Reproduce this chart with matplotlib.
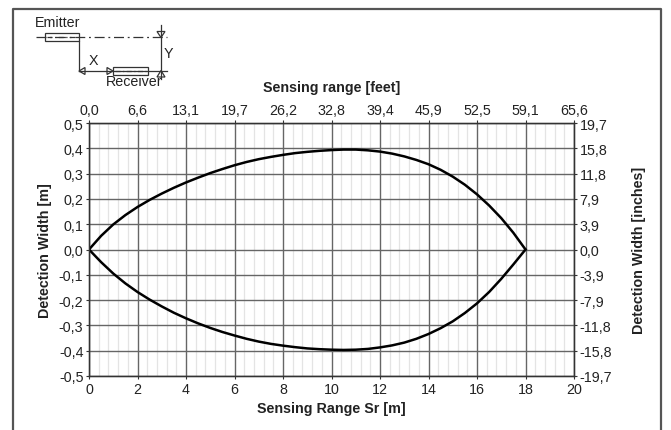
import matplotlib

matplotlib.use("Agg")
import matplotlib.pyplot as plt  # noqa: E402
from matplotlib.patches import Rectangle, Polygon  # noqa: E402

plt.rcParams["font.family"] = ["Liberation Sans", "DejaVu Sans"]

# detection area (metres)
range_m = [0, 0.5, 1, 1.5, 2, 2.5, 3, 3.5, 4, 4.5, 5, 5.5, 6, 6.5, 7, 7.5, 8, 8.5, 9, 9.5,
           10, 10.5, 11, 11.5, 12, 12.5, 13, 13.5, 14, 14.5, 15, 15.5, 16, 16.5, 17, 17.5, 18]
upper_m = [0, 0.054, 0.099, 0.136, 0.168, 0.196, 0.221, 0.244, 0.265, 0.284, 0.302, 0.318,
           0.333, 0.346, 0.357, 0.366, 0.374, 0.381, 0.386, 0.390, 0.393, 0.395, 0.395, 0.392,
           0.387, 0.379, 0.368, 0.354, 0.337, 0.315, 0.288, 0.256, 0.218, 0.174, 0.124, 0.066, 0]
lower_m = [0, -0.050, -0.095, -0.134, -0.168, -0.198, -0.225, -0.250, -0.272, -0.292, -0.310,
           -0.326, -0.340, -0.353, -0.364, -0.373, -0.380, -0.386, -0.391, -0.394, -0.396, -0.397,
           -0.396, -0.393, -0.387, -0.379, -0.368, -0.353, -0.334, -0.311, -0.284, -0.251, -0.213,
           -0.168, -0.116, -0.059, 0]

x_ticks = [0, 2, 4, 6, 8, 10, 12, 14, 16, 18, 20]
feet_labels = ["0,0", "6,6", "13,1", "19,7", "26,2", "32,8", "39,4", "45,9", "52,5", "59,1", "65,6"]
y_ticks = [0.5, 0.4, 0.3, 0.2, 0.1, 0.0, -0.1, -0.2, -0.3, -0.4, -0.5]
y_labels = ["0,5", "0,4", "0,3", "0,2", "0,1", "0,0", "-0,1", "-0,2", "-0,3", "-0,4", "-0,5"]
inch_labels = ["19,7", "15,8", "11,8", "7,9", "3,9", "0,0", "-3,9", "-7,9", "-11,8", "-15,8", "-19,7"]

W, H = 671, 431
fig = plt.figure(figsize=(W / 100, H / 100), dpi=100)
ax = fig.add_axes([89 / W, 1 - 377 / H, (574 - 89) / W, (377 - 124) / H])

tick_fs = 10.3
lab_fs = 10.3
major_c = "#666666"
txt_c = "#222222"

ax.set_xlim(0, 20)
ax.set_ylim(-0.5, 0.5)
ax.set_xticks(x_ticks)
ax.set_xticks([i * 0.4 for i in range(51)], minor=True)
ax.set_yticks(y_ticks)
ax.set_yticklabels(y_labels)
ax.grid(True, which="major", color=major_c, lw=1.0)
ax.grid(True, which="minor", axis="x", color="#e4e4e4", lw=0.9)
ax.tick_params(which="minor", length=0)
ax.tick_params(which="major", length=2.5, width=0.8, color="#333333",
               labelsize=tick_fs, pad=1.5, labelcolor=txt_c)
ax.set_axisbelow(True)
for s in ax.spines.values():
    s.set_color("#333333")
    s.set_linewidth(1.0)

ax.plot(range_m, upper_m, color="black", lw=1.8, solid_joinstyle="round", zorder=3)
ax.plot(range_m, lower_m, color="black", lw=1.8, solid_joinstyle="round", zorder=3)

ax.set_xlabel("Sensing Range Sr [m]", fontsize=lab_fs, fontweight="bold", labelpad=4, color=txt_c)
ax.set_ylabel("Detection Width [m]", fontsize=lab_fs, fontweight="bold", labelpad=5, color=txt_c)

top = ax.twiny()
top.set_xlim(ax.get_xlim())
top.set_xticks(x_ticks)
top.set_xticklabels(feet_labels)
top.tick_params(length=2.5, width=0.8, color="#333333", labelsize=tick_fs, pad=1.5, labelcolor=txt_c)
top.set_xlabel("Sensing range [feet]", fontsize=lab_fs, fontweight="bold", labelpad=9, color=txt_c)

right = ax.twinx()
right.set_ylim(ax.get_ylim())
right.set_yticks(y_ticks)
right.set_yticklabels(inch_labels)
right.tick_params(length=2.5, width=0.8, color="#333333", labelsize=tick_fs, pad=1.5, labelcolor=txt_c)
right.set_ylabel("Detection Width [inches]", fontsize=lab_fs, fontweight="bold", labelpad=14, color=txt_c)
for a in (top, right):
    for s in a.spines.values():
        s.set_color("#333333")

# overlay in pixel coordinates for frame and sketch
ov = fig.add_axes([0, 0, 1, 1], zorder=-1)
ov.set_xlim(0, W)
ov.set_ylim(H, 0)
ov.axis("off")
ov.plot([13, 13, 661, 661], [H + 5, 10, 10, H + 5], color="#555555", lw=1.6)

sk = fig.add_axes([0, 0, 1, 1], zorder=5)
sk.set_xlim(0, W)
sk.set_ylim(H, 0)
sk.axis("off")
lc = "#333333"
sk_fs = 10.3
# emitter line and box
sk.plot([36, 167], [37.7, 37.7], color=lc, lw=0.9, ls=(0, (8, 3, 1.5, 3)))
sk.add_patch(Rectangle((45, 33.5), 34, 8.5, fill=True, fc="white", ec=lc, lw=0.9))
sk.plot([47, 77], [37.7, 37.7], color=lc, lw=0.9, ls=(0, (4, 2, 1, 2)))
sk.text(35, 30, "Emitter", fontsize=sk_fs, color=txt_c, ha="left", va="bottom")
# receiver line and box
sk.plot([79, 79], [42, 72], color=lc, lw=0.9)
sk.plot([79, 167], [72, 72], color=lc, lw=0.9)
sk.add_patch(Rectangle((113, 68), 35, 8, fill=True, fc="white", ec=lc, lw=0.9))
sk.plot([115, 146], [72, 72], color=lc, lw=0.9, ls=(0, (4, 2, 1, 2)))
sk.add_patch(Polygon([(79, 72), (85, 68.5), (85, 75.5)], closed=True, fill=False, ec=lc, lw=0.9))
sk.add_patch(Polygon([(113, 72), (107, 68.5), (107, 75.5)], closed=True, fill=False, ec=lc, lw=0.9))
sk.text(89, 68, "X", fontsize=sk_fs, color=txt_c, ha="left", va="bottom")
sk.text(106, 75, "Receiver", fontsize=sk_fs, color=txt_c, ha="left", va="top")
# Y dimension
sk.plot([161, 161], [26, 80], color=lc, lw=0.9)
sk.add_patch(Polygon([(161, 38.5), (157, 32.5), (165, 32.5)], closed=True, fill=False, ec=lc, lw=0.9))
sk.add_patch(Polygon([(161, 71.5), (157, 78), (165, 78)], closed=True, fill=False, ec=lc, lw=0.9))
sk.text(164, 61, "Y", fontsize=sk_fs, color=txt_c, ha="left", va="bottom")

fig.savefig("out.png", dpi=100)
